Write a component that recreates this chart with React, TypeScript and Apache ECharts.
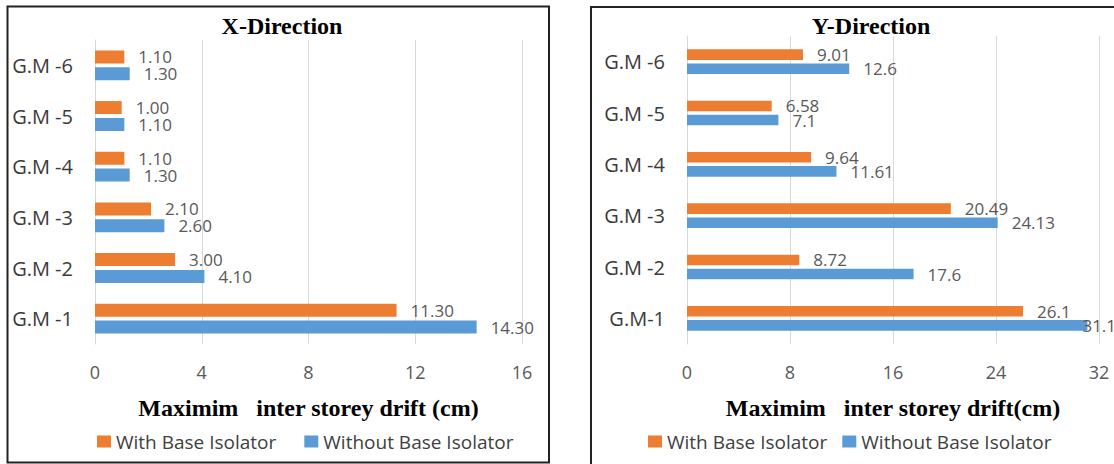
import React, { useEffect, useRef } from "react";
import * as echarts from "echarts";

// Ground motion records, listed bottom to top as drawn on the category axis
const categoriesX = ["G.M -1", "G.M -2", "G.M -3", "G.M -4", "G.M -5", "G.M -6"];
const categoriesY = ["G.M-1", "G.M -2", "G.M -3", "G.M -4", "G.M -5", "G.M -6"];

// Maximum inter storey drift (cm), X direction
const xWithIsolator = [11.3, 3.0, 2.1, 1.1, 1.0, 1.1];
const xWithoutIsolator = [14.3, 4.1, 2.6, 1.3, 1.1, 1.3];

// Maximum inter storey drift (cm), Y direction
const yWithIsolator = [26.1, 8.72, 20.49, 9.64, 6.58, 9.01];
const yWithoutIsolator = [31.1, 17.6, 24.13, 11.61, 7.1, 12.6];

// Value axis ticks
const xTicks = [0, 4, 8, 12, 16];
const yTicks = [0, 8, 16, 24, 32];

const WITH = "With Base Isolator";
const WITHOUT = "Without Base Isolator";
const ORANGE = "#ED7D31";
const BLUE = "#5B9BD5";
const SANS = "'Open Sans', 'Noto Sans', sans-serif";
const SERIF = "'Liberation Serif', 'DejaVu Serif', serif";

export default function App() {
  const ref = useRef<HTMLDivElement>(null);

  useEffect(() => {
    if (!ref.current) return;
    const chart = echarts.init(ref.current, undefined, { renderer: "svg" });

    const valueAxis = (gridIndex: number, ticks: number[], name: string) => ({
      type: "value",
      gridIndex,
      min: ticks[0],
      max: ticks[ticks.length - 1],
      interval: ticks[1] - ticks[0],
      axisLine: { show: false },
      axisTick: { show: false },
      splitLine: { show: true, lineStyle: { color: "#D9D9D9", width: 1 } },
      axisLabel: { color: "#595959", fontSize: 18, fontFamily: SANS, margin: 19 },
      name,
      nameLocation: "middle",
      nameGap: 52,
      nameTextStyle: { color: "#000", fontSize: 24, fontWeight: "bold", fontFamily: SERIF },
    });

    const categoryAxis = (gridIndex: number, cats: string[]) => ({
      type: "category",
      gridIndex,
      data: cats,
      axisLine: { show: true, lineStyle: { color: "#D9D9D9", width: 1 } },
      axisTick: { show: false },
      axisLabel: { color: "#3A3A3A", fontSize: 20, fontFamily: SANS, margin: 22 },
    });

    const valueLabel = (fmt?: (v: number) => string) => ({
      show: true,
      position: "right",
      distance: 14,
      color: "#595959",
      fontSize: 17,
      fontFamily: SANS,
      formatter: fmt ? (p: any) => fmt(p.value) : undefined,
    });

    const two = (v: number) => v.toFixed(2);

    // The longest Y-direction bar runs to the panel edge, so its label is tucked in
    const yWithoutData = yWithoutIsolator.map((v) =>
      v === Math.max(...yWithoutIsolator) ? { value: v, label: { distance: -5 } } : v
    );

    const legendBase = {
      data: [WITH, WITHOUT],
      icon: "rect",
      itemWidth: 14,
      itemHeight: 12,
      top: 427,
      textStyle: { color: "#404040", fontSize: 19, fontFamily: SANS },
      selectedMode: false,
    };

    chart.setOption({
      animation: false,
      backgroundColor: "#fff",
      grid: [
        { left: 95, top: 40, width: 427, height: 304 },
        { left: 687, top: 36, width: 412, height: 308 },
      ],
      xAxis: [
        valueAxis(0, xTicks, "Maximim   inter storey drift (cm)"),
        valueAxis(1, yTicks, "Maximim   inter storey drift(cm)"),
      ],
      yAxis: [categoryAxis(0, categoriesX), categoryAxis(1, categoriesY)],
      legend: [
        { ...legendBase, left: 92, itemGap: 28 },
        { ...legendBase, left: 643, itemGap: 15 },
      ],
      series: [
        {
          name: WITH,
          type: "bar",
          xAxisIndex: 0,
          yAxisIndex: 0,
          data: xWithIsolator,
          itemStyle: { color: ORANGE },
          barCategoryGap: "41%",
          barGap: "30%",
          label: valueLabel(two),
        },
        {
          name: WITHOUT,
          type: "bar",
          xAxisIndex: 0,
          yAxisIndex: 0,
          data: xWithoutIsolator,
          itemStyle: { color: BLUE },
          barCategoryGap: "41%",
          barGap: "30%",
          label: valueLabel(two),
        },
        {
          name: WITH,
          type: "bar",
          xAxisIndex: 1,
          yAxisIndex: 1,
          data: yWithIsolator,
          itemStyle: { color: ORANGE },
          barCategoryGap: "52%",
          barGap: "33%",
          label: valueLabel(),
        },
        {
          name: WITHOUT,
          type: "bar",
          xAxisIndex: 1,
          yAxisIndex: 1,
          data: yWithoutData,
          itemStyle: { color: BLUE },
          barCategoryGap: "52%",
          barGap: "33%",
          label: valueLabel(),
        },
      ],
      graphic: [
        {
          type: "rect",
          shape: { x: 7.5, y: 6.5, width: 541.5, height: 456 },
          style: { fill: "none", stroke: "#222", lineWidth: 2 },
          silent: true,
          z: 10,
        },
        {
          type: "rect",
          shape: { x: 591, y: 7, width: 600, height: 600 },
          style: { fill: "none", stroke: "#222", lineWidth: 2 },
          silent: true,
          z: 10,
        },
        {
          type: "text",
          x: 282,
          y: 26,
          style: {
            text: "X-Direction",
            align: "center",
            verticalAlign: "middle",
            fill: "#000",
            font: `bold 24px ${SERIF}`,
          },
        },
        {
          type: "text",
          x: 871,
          y: 26,
          style: {
            text: "Y-Direction",
            align: "center",
            verticalAlign: "middle",
            fill: "#000",
            font: `bold 24px ${SERIF}`,
          },
        },
      ],
    });

    return () => chart.dispose();
  }, []);

  return (
    <div
      ref={ref}
      style={{ position: "fixed", left: 0, top: 0, width: 1114, height: 464, background: "#fff" }}
    />
  );
}
